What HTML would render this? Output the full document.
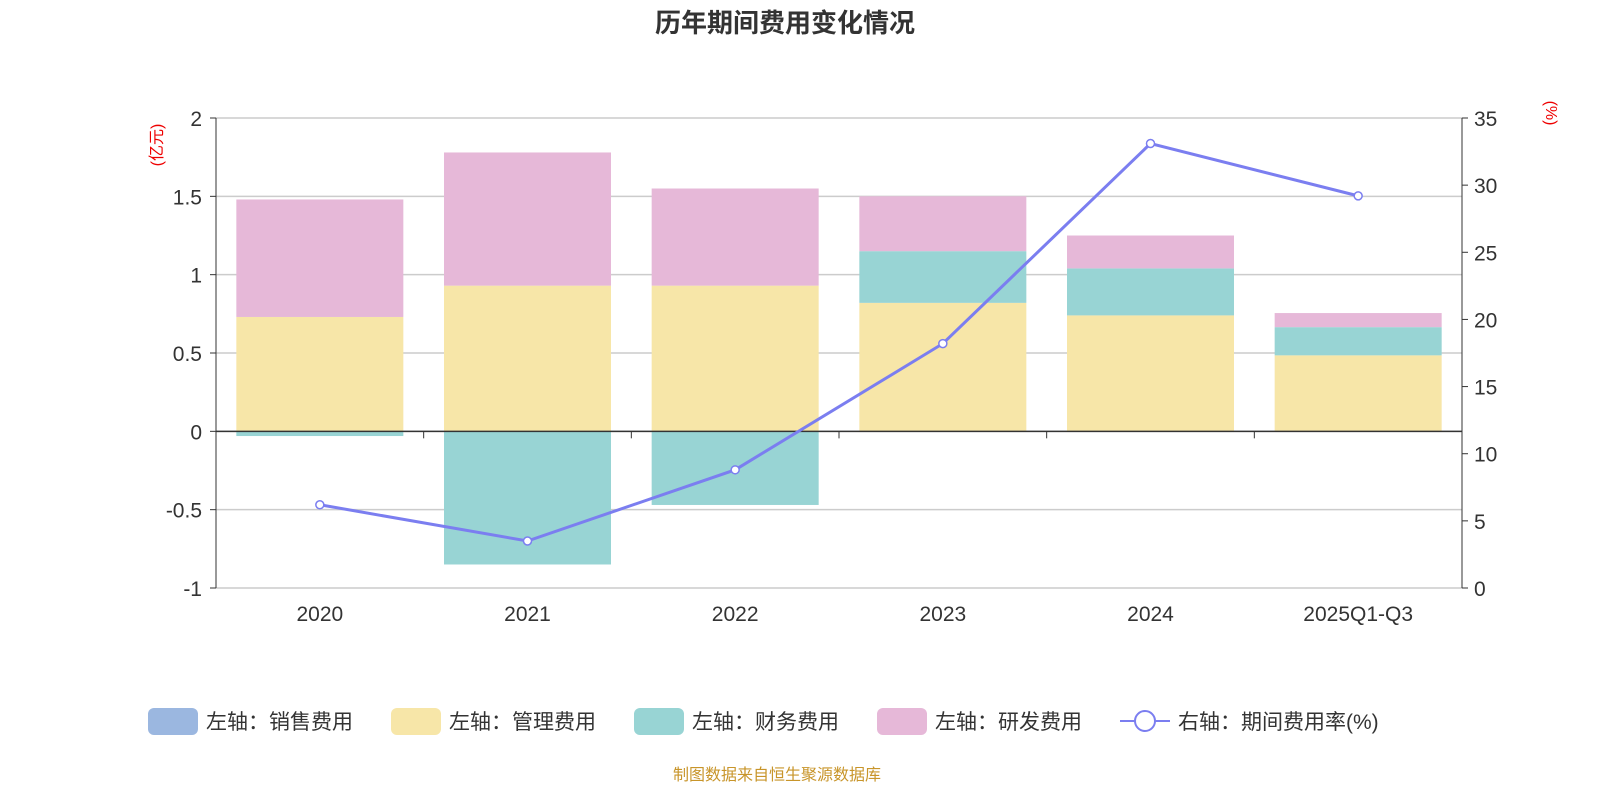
<!DOCTYPE html>
<html><head><meta charset="utf-8">
<style>
body{margin:0;background:#fff;width:1600px;height:800px;overflow:hidden;font-family:"Liberation Sans","Noto Sans CJK SC",sans-serif;}
svg text{font-family:"Liberation Sans","Noto Sans CJK SC",sans-serif;}
</style></head><body>
<svg id="c" width="1600" height="800"></svg>
<script>
const categories=["2020","2021","2022","2023","2024","2025Q1-Q3"];
const salesVals=[0,0,0,0,0,0];
const mgmtVals=[0.73,0.93,0.93,0.82,0.74,0.485];
const finVals=[-0.03,-0.85,-0.47,0.33,0.30,0.18];
const rdVals=[0.75,0.85,0.62,0.35,0.21,0.09];
const rateVals=[6.2,3.5,8.8,18.2,33.1,29.2];
const leftTicks=[2,1.5,1,0.5,0,-0.5,-1];
const rightTicks=[35,30,25,20,15,10,5,0];

const NS="http://www.w3.org/2000/svg";
const svg=document.getElementById('c');
function mk(t,a,txt){const e=document.createElementNS(NS,t);for(const k in a)e.setAttribute(k,a[k]);if(txt!==undefined)e.textContent=txt;svg.appendChild(e);return e;}
const L=216,R=1462,T=118,B=588;
const yL=v=>T+(2-v)/3*(B-T);
const yR=v=>B-v/35*(B-T);
const bw=(R-L)/categories.length;
const xC=i=>L+bw*(i+0.5);
const barW=167;

let e=mk('text',{x:785,y:32,'text-anchor':'middle','font-size':26,'font-weight':'bold',fill:'#333'},'历年期间费用变化情况');


leftTicks.forEach(v=>{
  const y=yL(v);
  const g=mk('line',{x1:L,x2:R,y1:y,y2:y,stroke:'#ccc','stroke-width':1.5});
  
  const t=mk('text',{x:L-14,y:y+8,'text-anchor':'end','font-size':21,fill:'#333'},String(v));
  
  mk('line',{x1:L-6,x2:L,y1:y,y2:y,stroke:'#333'});
});
rightTicks.forEach(v=>{
  const y=yR(v);
  const t=mk('text',{x:R+12,y:y+8,'font-size':21,fill:'#333'},String(v));
  
  mk('line',{x1:R,x2:R+6,y1:y,y2:y,stroke:'#333'});
});
mk('line',{x1:L,x2:L,y1:T,y2:B,stroke:'#333'});
mk('line',{x1:R,x2:R,y1:T,y2:B,stroke:'#333'});
e=mk('text',{x:0,y:0,transform:`translate(162,145) rotate(-90)`,'text-anchor':'middle','font-size':16,fill:'#e00'},'(亿元)');

e=mk('text',{x:0,y:0,transform:`translate(1546,113) rotate(90)`,'text-anchor':'middle','font-size':16,fill:'#e00'},'(%)');


const series=[[salesVals,'#9bb7e0','sales'],[mgmtVals,'#f7e6a8','mgmt'],[finVals,'#98d4d4','finance'],[rdVals,'#e6b8d8','rd']];
categories.forEach((c,i)=>{
  let pos=0,neg=0;
  series.forEach(([arr,col,nm])=>{
    const v=arr[i];if(!v)return;
    let y0,y1;
    if(v>=0){y0=pos;y1=pos+v;pos=y1;}else{y0=neg;y1=neg+v;neg=y1;}
    const top=yL(Math.max(y0,y1)),bot=yL(Math.min(y0,y1));
    const r=mk('rect',{x:xC(i)-barW/2,y:top,width:barW,height:bot-top,fill:col});
    
  });
  const t=mk('text',{x:xC(i),y:621,'text-anchor':'middle','font-size':21,fill:'#333'},c);
  
});
mk('line',{x1:L,x2:R,y1:yL(0),y2:yL(0),stroke:'#333','stroke-width':1.5});
for(let i=0;i<=categories.length;i++){const x=L+bw*i;mk('line',{x1:x,x2:x,y1:yL(0),y2:yL(0)+7,stroke:'#333'});}

const pts=rateVals.map((v,i)=>[xC(i),yR(v)]);
e=mk('polyline',{points:pts.map(p=>p.join(',')).join(' '),fill:'none',stroke:'#7b7ef0','stroke-width':3});

pts.forEach(p=>{const c=mk('circle',{cx:p[0],cy:p[1],r:4,fill:'#fff',stroke:'#7b7ef0','stroke-width':1.5});
});

const leg=[['左轴：销售费用','#9bb7e0',148],['左轴：管理费用','#f7e6a8',391],['左轴：财务费用','#98d4d4',634],['左轴：研发费用','#e6b8d8',877]];
leg.forEach(([t,c,x])=>{
  const r=mk('rect',{x:x,y:708,width:50,height:27,rx:6,fill:c});
  
  const tx=mk('text',{x:x+58,y:729,'font-size':21,fill:'#333'},t);
  
});
mk('line',{x1:1120,x2:1170,y1:721,y2:721,stroke:'#7b7ef0','stroke-width':2});
e=mk('circle',{cx:1145,cy:721,r:10,fill:'#fff',stroke:'#7b7ef0','stroke-width':2});

e=mk('text',{x:1178,y:729,'font-size':21,fill:'#333'},'右轴：期间费用率(%)');

e=mk('text',{x:777,y:780,'text-anchor':'middle','font-size':16,fill:'#c8952a'},'制图数据来自恒生聚源数据库');

</script>
</body></html>
